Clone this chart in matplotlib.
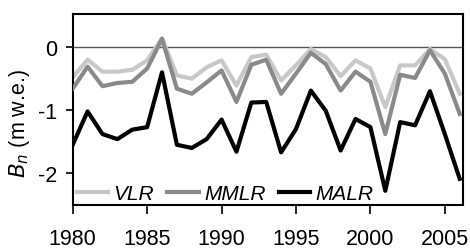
import numpy as np
import matplotlib.pyplot as plt

years = np.arange(1980, 2007)
vlr = [-0.48, -0.20, -0.39, -0.39, -0.36, -0.21, 0.14, -0.45, -0.50, -0.32,
       -0.21, -0.61, -0.16, -0.12, -0.53, -0.29, -0.03, -0.16, -0.46, -0.21,
       -0.34, -0.95, -0.29, -0.29, -0.03, -0.19, -0.74]
mmlr = [-0.66, -0.31, -0.62, -0.57, -0.55, -0.34, 0.13, -0.66, -0.74, -0.56,
        -0.37, -0.87, -0.28, -0.20, -0.74, -0.42, -0.09, -0.27, -0.69, -0.39,
        -0.55, -1.38, -0.44, -0.49, -0.05, -0.42, -1.06]
malr = [-1.55, -1.02, -1.38, -1.46, -1.31, -1.27, -0.40, -1.55, -1.60, -1.46,
        -1.15, -1.66, -0.88, -0.87, -1.67, -1.30, -0.69, -1.01, -1.64, -1.14,
        -1.27, -2.28, -1.19, -1.24, -0.70, -1.38, -2.09]
xticks = [1980, 1985, 1990, 1995, 2000, 2005]
yticks = [0, -1, -2]

plt.rcParams['font.family'] = ['Liberation Sans', 'DejaVu Sans']

fig = plt.figure(figsize=(4.7, 2.51), dpi=100)
ax = fig.add_axes([72.7 / 470, 1 - 205.7 / 251, 390 / 470, 190.4 / 251])

ax.axhline(0, color='#555555', lw=1.0, zorder=1)
ax.plot(years, vlr, color='#c8c8c8', lw=3.0, label='VLR', zorder=2)
ax.plot(years, mmlr, color='#8a8a8a', lw=3.0, label='MMLR', zorder=3)
ax.plot(years, malr, color='black', lw=3.0, label='MALR', zorder=4)

ax.set_xlim(1980, 2006.2)
ax.set_ylim(-2.5, 0.52)
ax.set_xticks(xticks)
ax.set_yticks(yticks)
ax.set_yticklabels([str(t) for t in yticks])
ax.tick_params(axis='both', direction='out', length=5, width=1.2, labelsize=15.5, pad=6)
ax.tick_params(axis='x', length=6.5, pad=10)
for s in ax.spines.values():
    s.set_linewidth(1.5)

ax.set_ylabel(r'$B_n$ (m w.e.)', fontsize=15.5)
ax.yaxis.set_label_coords(-0.105, 0.43)

leg = ax.legend(loc='lower left', bbox_to_anchor=(0.0, -0.015), ncol=3, frameon=False,
                prop={'style': 'italic', 'size': 15}, handlelength=1.5,
                handletextpad=0.25, columnspacing=0.65, borderpad=0.1,
                borderaxespad=0.1)

fig.savefig('out.png', dpi=100)
